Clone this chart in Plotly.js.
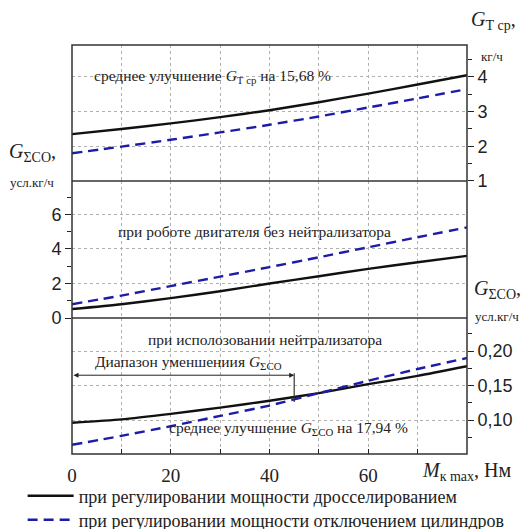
<!DOCTYPE html>
<html><head><meta charset="utf-8">
<script src="https://cdn.plot.ly/plotly-3.0.1.min.js"></script>
<style>html,body{margin:0;padding:0;background:#fff}#c{width:523px;height:529px}</style>
</head><body><div id="c"></div>
<script>
// torque M_k max, Nm
const torque = [0, 10, 20, 30, 40, 50, 60, 70, 80];
// top panel: G_T sr, kg/h
const fuelThrottle = [2.35, 2.5, 2.66, 2.84, 3.04, 3.27, 3.52, 3.78, 4.05];
const fuelCylOff   = [1.8, 1.99, 2.19, 2.4, 2.62, 2.86, 3.12, 3.38, 3.65];
// middle panel: G_ΣCO without neutralizer
const coRawThrottle = [0.52, 0.8, 1.15, 1.55, 2.0, 2.42, 2.85, 3.23, 3.6];
const coRawCylOff   = [0.8, 1.3, 1.85, 2.4, 2.95, 3.52, 4.1, 4.68, 5.25];
// bottom panel: G_ΣCO with neutralizer
const coNeuThrottle = [0.096, 0.101, 0.109, 0.118, 0.128, 0.139, 0.152, 0.164, 0.178];
const coNeuCylOff   = [0.064, 0.077, 0.091, 0.106, 0.121, 0.139, 0.157, 0.174, 0.19];
const xTicks = [0, 20, 40, 60];
const rangeEnd = 45;      // end of the reduction range, Nm
const rangeLevel = 0.165; // arrow level on the bottom axis

const legendNames = ['при регулировании мощности дросселированием', 'при регулировании мощности отключением цилиндров'];

const BLACK = '#111111', BLUE = '#1c1ca8';
const solid = {color: BLACK, width: 2.4, shape: 'spline', smoothing: 0.6};
const dashed = {color: BLUE, width: 2.4, dash: '10px,6px', shape: 'spline', smoothing: 0.6};
const SERIF = 'Times New Roman, Liberation Serif, DejaVu Serif, serif';
const SANS = 'Arial, Liberation Sans, sans-serif';
const TXT = '#222';

const traces = [
  {x: torque, y: fuelThrottle, yaxis: 'y3', mode: 'lines', line: solid, name: legendNames[0], showlegend: true, legend: 'legend'},
  {x: torque, y: fuelCylOff, yaxis: 'y3', mode: 'lines', line: dashed, name: legendNames[1], showlegend: true, legend: 'legend2'},
  {x: torque, y: coRawThrottle, yaxis: 'y2', mode: 'lines', line: solid, showlegend: false},
  {x: torque, y: coRawCylOff, yaxis: 'y2', mode: 'lines', line: dashed, showlegend: false},
  {x: torque, y: coNeuThrottle, yaxis: 'y', mode: 'lines', line: solid, showlegend: false},
  {x: torque, y: coNeuCylOff, yaxis: 'y', mode: 'lines', line: dashed, showlegend: false}
];

const grid = {showgrid: true, gridcolor: '#b0b0b0', griddash: 'dot', gridwidth: 1};
const yCommon = Object.assign({}, grid, {
  zeroline: false, ticks: 'outside', ticklen: 6, tickwidth: 1, tickcolor: '#222',
  showline: false, tickfont: {family: SANS, size: 18, color: TXT}, anchor: 'x'
});

const B1 = 0.3325, B2 = 0.6675;

function lab(x, y, text, size, extra) {
  return Object.assign({xref: 'paper', yref: 'paper', x: x, y: y, xanchor: 'center', yanchor: 'middle',
    showarrow: false, text: text, font: {family: SERIF, size: size, color: TXT}}, extra || {});
}
function note(yref, x, y, text) {
  return {xref: 'x', yref: yref, x: x, y: y, xanchor: 'center', yanchor: 'middle', showarrow: false,
    text: text, font: {family: SERIF, size: 15.5, color: TXT}};
}
function leg(y) {
  return {x: -0.125, xanchor: 'left', y: y, yanchor: 'middle', orientation: 'v',
          font: {family: SERIF, size: 18, color: TXT}, bgcolor: 'rgba(0,0,0,0)', itemwidth: 46};
}

const layout = {
  width: 523, height: 529,
  margin: {l: 72, r: 56, t: 45, b: 75, autoexpand: false},
  paper_bgcolor: '#fff', plot_bgcolor: '#fff',
  font: {family: SERIF},
  separators: ', ',
  showlegend: true,
  legend: leg(-0.1027),
  legend2: leg(-0.1614),
  xaxis: Object.assign({}, grid, {
    range: [0, 80], tickvals: xTicks, ticks: 'inside', ticklen: 5, tickcolor: '#222',
    zeroline: false, showline: false, anchor: 'y', ticklabelstandoff: 8,
    tickfont: {family: SERIF, size: 19, color: TXT},
    minor: {dtick: 10, tick0: 0, ticks: 'inside', ticklen: 5, tickcolor: '#222',
            showgrid: true, gridcolor: '#b0b0b0', griddash: 'dot', gridwidth: 1}
  }),
  yaxis: Object.assign({}, yCommon, {
    domain: [0, B1], range: [0.0507, 0.248], side: 'right',
    tickvals: [0.10, 0.15, 0.20], tickformat: '.2f',
    minor: {tickvals: [0.075, 0.125, 0.175, 0.225], ticks: 'outside', ticklen: 4, tickcolor: '#222', showgrid: false}
  }),
  yaxis2: Object.assign({}, yCommon, {
    domain: [B1, B2], range: [0, 7.94], side: 'left',
    tickvals: [0, 2, 4, 6],
    minor: {tickvals: [1, 3, 5, 7], ticks: 'outside', ticklen: 4, tickcolor: '#222', showgrid: false}
  }),
  yaxis3: Object.assign({}, yCommon, {
    domain: [B2, 1], range: [1, 4.92], side: 'right',
    tickvals: [1, 2, 3, 4],
    minor: {tickvals: [1.5, 2.5, 3.5, 4.5], ticks: 'outside', ticklen: 4, tickcolor: '#222', showgrid: false}
  }),
  shapes: [
    {type: 'rect', xref: 'paper', yref: 'paper', x0: 0, x1: 1, y0: 0, y1: 1, line: {color: '#333', width: 1.5}},
    {type: 'line', xref: 'paper', yref: 'paper', x0: 0, x1: 1, y0: B1, y1: B1, line: {color: '#333', width: 1.5}},
    {type: 'line', xref: 'paper', yref: 'paper', x0: 0, x1: 1, y0: B2, y1: B2, line: {color: '#333', width: 1.5}},
    {type: 'line', xref: 'x', yref: 'y', x0: rangeEnd, x1: rangeEnd, y0: rangeLevel + 0.003, y1: 0.126, line: {color: '#333', width: 1.2}}
  ],
  annotations: [
    {xref: 'x', yref: 'y', x: rangeEnd, y: rangeLevel, ax: 0, ay: rangeLevel, axref: 'x', ayref: 'y',
     text: '', showarrow: true, arrowhead: 2, startarrowhead: 2, arrowside: 'end+start', arrowsize: 1, arrowwidth: 1, arrowcolor: '#222'},
    note('y3', 28.4, 4.0, 'среднее улучшение <i>G</i><sub>Т ср</sub> на 15,68 %'),
    note('y2', 36.9, 5.04, 'при роботе двигателя без нейтрализатора'),
    note('y', 39.1, 0.217, 'при исполозовании нейтрализатора'),
    note('y', 23.5, 0.183, 'Диапазон уменшениия <i>G</i><sub>ΣCO</sub>'),
    note('y', 43.8, 0.087, 'среднее улучшение <i>G</i><sub>ΣCO</sub> на 17,94 %'),
    // axis labels
    lab(1.068, 1.061, '<i>G</i><sub>Т ср</sub>,', 20),
    lab(1.063, 0.973, 'кг/ч', 13),
    lab(-0.099, 0.738, '<i>G</i><sub>ΣCO</sub>,', 20),
    lab(-0.101, 0.663, 'усл.кг/ч', 13),
    lab(1.076, 0.401, '<i>G</i><sub>ΣCO</sub>,', 20),
    lab(1.076, 0.335, 'усл.кг/ч', 13),
    lab(1.0, -0.044, '<i>M</i><sub>к max</sub>, Нм', 20),
    lab(-0.09, 1.10, 'ΣCO', 18, {yanchor: 'bottom'})
  ]
};

Plotly.newPlot('c', traces, layout, {displayModeBar: false, staticPlot: true});
</script>
</body></html>
